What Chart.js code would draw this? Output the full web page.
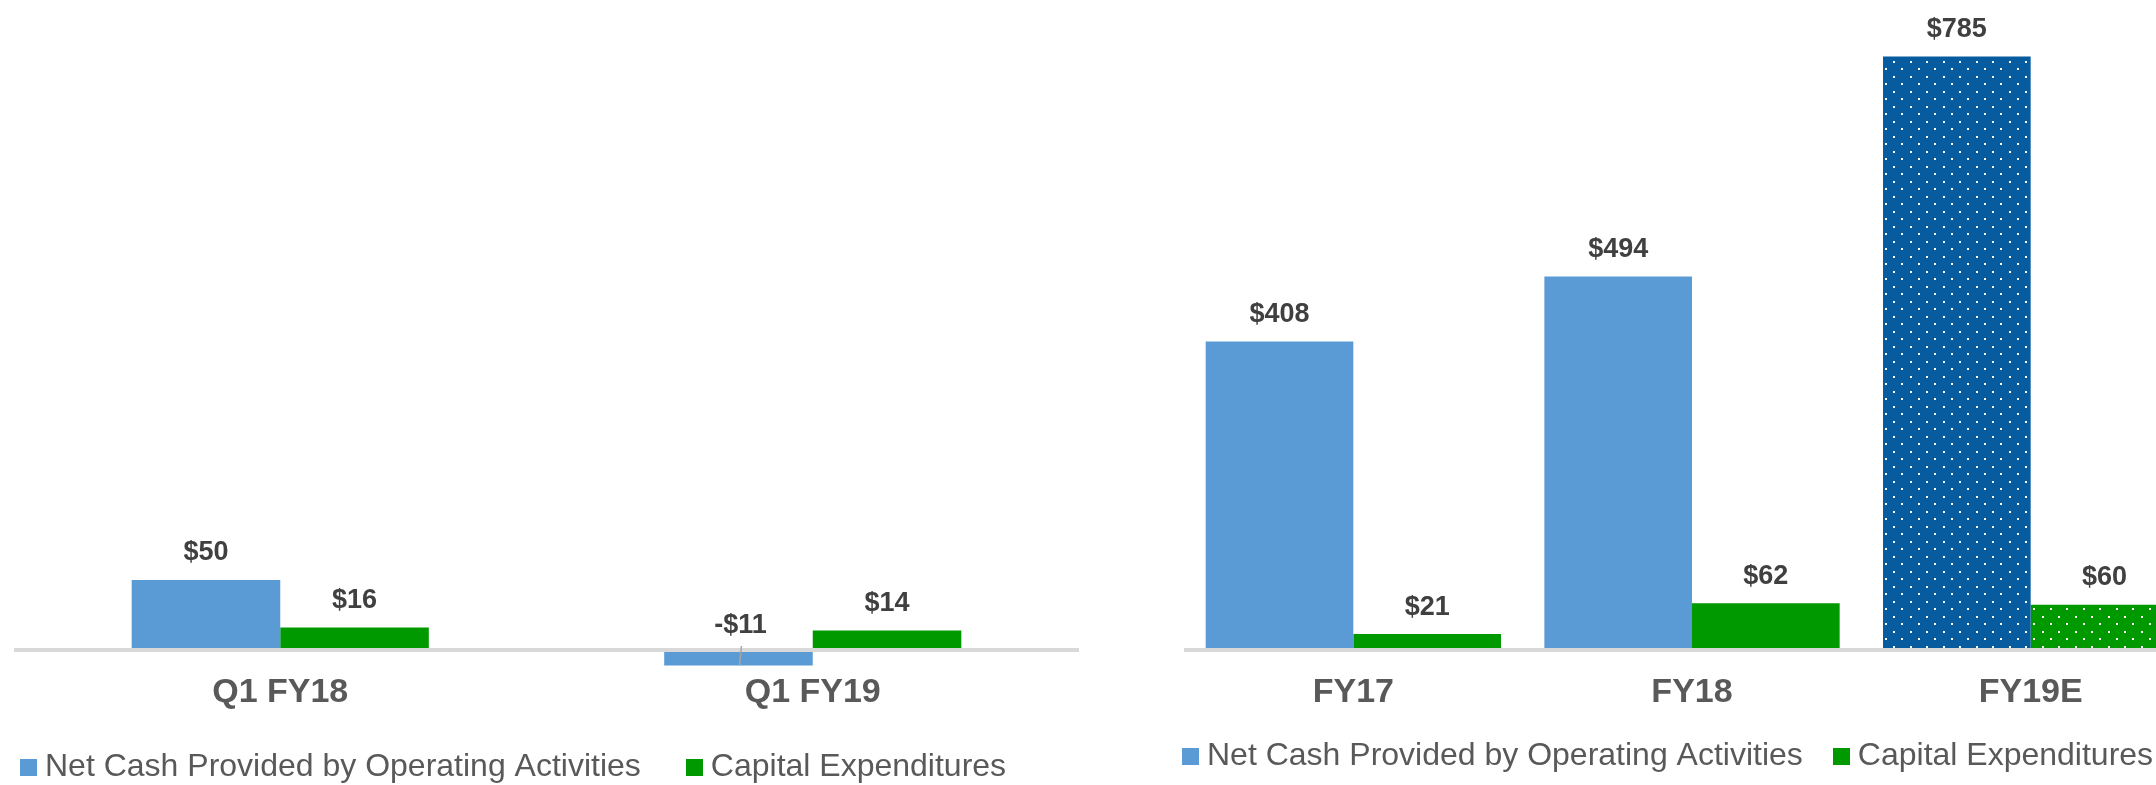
<!DOCTYPE html>
<html><head><meta charset="utf-8">
<script src="https://cdn.jsdelivr.net/npm/chart.js@4.4.1/dist/chart.umd.min.js"></script>
<style>
html,body{margin:0;padding:0;background:#fff;overflow:hidden;width:2156px;height:785px;}
#wrap{position:relative;width:2156px;height:785px;overflow:hidden;background:#fff;}
canvas{position:absolute;top:0;}
#c1{left:0;}
#c2{left:1150px;}
</style></head><body>
<div id="wrap">
<canvas id="c1" width="1150" height="815"></canvas>
<canvas id="c2" width="1150" height="800"></canvas>
</div>
<script>
// ---- data ----
const quarterCategories = ['Q1 FY18', 'Q1 FY19'];
const quarterNetCash = [50, -11];
const quarterCapex = [16, 14];
const yearCategories = ['FY17', 'FY18', 'FY19E'];
const yearNetCash = [408, 494, 785];
const yearCapex = [21, 62, 60];
const seriesNames = ['Net Cash Provided by Operating Activities', 'Capital Expenditures'];
const estimateIndex = 2; // FY19E drawn with dotted fill

// ---- style ----
const FONT = '"Liberation Sans", Arial, sans-serif';
const BLUE = '#5B9BD5', GREEN = '#009900';
const DARK_BLUE = '#075CA0';

function dotPattern(ctx, base) {
  const t = document.createElement('canvas');
  t.width = 33; t.height = 15;
  const g = t.getContext('2d');
  g.fillStyle = base; g.fillRect(0, 0, 33, 15);
  g.fillStyle = '#ffffff';
  [[1, 1], [17, 1], [9, 8], [25, 8]].forEach(p => g.fillRect(p[0], p[1], 2, 2));
  return ctx.createPattern(t, 'repeat');
}

function swatch(color) {
  const c = document.createElement('canvas');
  c.width = 17; c.height = 17;
  const g = c.getContext('2d');
  g.fillStyle = color; g.fillRect(0, 0, 17, 17);
  return c;
}
const legendSwatches = [swatch(BLUE), swatch(GREEN)];

const legendShift = {
  id: 'legendShift',
  afterLayout(chart, args, opts) {
    const l = chart.legend;
    if (!l) return;
    l.left += opts.dx; l.right += opts.dx;
    l.top += opts.dy; l.bottom += opts.dy;
  }
};

const valueLabels = {
  id: 'valueLabels',
  afterDatasetsDraw(chart, args, opts) {
    const ctx = chart.ctx;
    const y0 = chart.scales.y.getPixelForValue(0);
    ctx.save();
    ctx.font = 'bold 27px ' + FONT;
    ctx.fillStyle = '#404040';
    ctx.textAlign = 'center';
    ctx.textBaseline = 'middle';
    chart.data.datasets.forEach((ds, di) => {
      chart.getDatasetMeta(di).data.forEach((bar, i) => {
        const v = ds.data[i];
        const text = (v < 0 ? '-$' : '$') + Math.abs(v);
        if (v >= 0) {
          ctx.fillText(text, bar.x, bar.y - opts.gap);
        } else {
          ctx.fillText(text, bar.x + 2, y0 - opts.gap + 3);
          ctx.strokeStyle = '#A6A6A6';
          ctx.lineWidth = 1.5;
          ctx.beginPath();
          ctx.moveTo(bar.x + 3, y0 - 4);
          ctx.lineTo(bar.x + 1, bar.y);
          ctx.stroke();
        }
      });
    });
    ctx.restore();
  }
};

function makeOptions(cfg) {
  return {
    responsive: false,
    animation: false,
    devicePixelRatio: 1,
    layout: { padding: { left: cfg.padLeft, right: 0, top: 0, bottom: 0 } },
    datasets: { bar: { categoryPercentage: cfg.catPct, barPercentage: 1, borderWidth: 0 } },
    scales: {
      x: {
        grid: { display: false, drawTicks: false },
        border: { display: false },
        ticks: { color: '#595959', font: { family: FONT, size: 34, weight: 'bold', lineHeight: 1.2 }, padding: 2, maxRotation: 0, autoSkip: false },
        afterFit: s => { s.height = 50; }
      },
      y: {
        position: 'right',
        min: cfg.yMin, max: cfg.yMax,
        grid: { color: '#D9D9D9', lineWidth: 4, drawTicks: false },
        border: { display: false },
        ticks: { display: false },
        afterBuildTicks: s => { s.ticks = [{ value: 0 }]; },
        afterFit: s => { s.width = cfg.rightWidth; }
      }
    },
    plugins: {
      legend: {
        position: 'bottom', align: 'start',
        labels: {
          usePointStyle: true, boxWidth: 1, boxHeight: 17,
          padding: cfg.legendPad, color: '#595959', font: { family: FONT, size: 32 },
          generateLabels: chart => Chart.defaults.plugins.legend.labels.generateLabels(chart).map((it, i) => { it.pointStyle = legendSwatches[i]; return it; })
        }
      },
      tooltip: { enabled: false },
      legendShift: { dx: cfg.dx, dy: cfg.dy },
      valueLabels: { gap: 27 }
    }
  };
}

// ---- left chart (quarters) ----
new Chart(document.getElementById('c1'), {
  type: 'bar',
  data: {
    labels: quarterCategories,
    datasets: [
      { label: seriesNames[0], data: quarterNetCash, backgroundColor: BLUE },
      { label: seriesNames[1], data: quarterCapex, backgroundColor: GREEN }
    ]
  },
  options: makeOptions({ padLeft: 14, catPct: 0.558, yMin: -20 / 1.4, yMax: 650 / 1.4, rightWidth: 71, legendPad: 53, dx: -39, dy: -22 }),
  plugins: [legendShift, valueLabels]
});

// ---- right chart (fiscal years) ----
const ctx2 = document.getElementById('c2').getContext('2d');
const bluePattern = dotPattern(ctx2, DARK_BLUE);
const greenPattern = dotPattern(ctx2, GREEN);
new Chart(ctx2, {
  type: 'bar',
  data: {
    labels: yearCategories,
    datasets: [
      { label: seriesNames[0], data: yearNetCash, backgroundColor: c => c.dataIndex === estimateIndex ? bluePattern : BLUE },
      { label: seriesNames[1], data: yearCapex, backgroundColor: c => c.dataIndex === estimateIndex ? greenPattern : GREEN }
    ]
  },
  options: makeOptions({ padLeft: 34, catPct: 0.872, yMin: -20 / 0.756, yMax: 650 / 0.756, rightWidth: 100, legendPad: 38, dx: -32, dy: -18 }),
  plugins: [legendShift, valueLabels]
});
</script>
</body></html>
